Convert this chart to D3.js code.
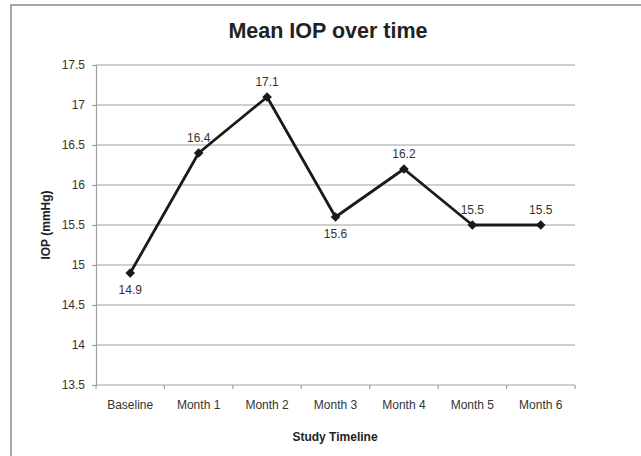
<!DOCTYPE html>
<html>
<head>
<meta charset="utf-8">
<script src="https://cdn.jsdelivr.net/npm/d3@7"></script>
<style>
  body { margin: 0; background: #fff; }
  svg { display: block; font-family: "Liberation Sans", Arial, sans-serif; }
</style>
</head>
<body>
<div id="chart"></div>
<script>
// Mean IOP over time

const categories = ['Baseline', 'Month 1', 'Month 2', 'Month 3', 'Month 4', 'Month 5', 'Month 6'];
const iopValues = [14.9, 16.4, 17.1, 15.6, 16.2, 15.5, 15.5];
const labelBelow = [true, false, false, true, false, false, false];
const yTicks = [13.5, 14, 14.5, 15, 15.5, 16, 16.5, 17, 17.5];

const W = 641, H = 456;
const plot = {left: 96, right: 575, top: 65, bottom: 385};

const svg = d3.select('#chart').append('svg')
    .attr('width', W)
    .attr('height', H);

// outer frame (only left/top edges are visible in the crop)
svg.append('rect')
    .attr('x', 11).attr('y', 5)
    .attr('width', 700).attr('height', 600)
    .attr('fill', 'none')
    .attr('stroke', '#a8a8a8')
    .attr('stroke-width', 2);

const x = d3.scaleBand()
    .domain(categories)
    .range([plot.left, plot.right]);

const y = d3.scaleLinear()
    .domain([13.5, 17.5])
    .range([plot.bottom, plot.top]);

// gridlines
svg.append('g')
    .selectAll('line')
    .data(yTicks.slice(1))
    .enter()
    .append('line')
    .attr('x1', plot.left).attr('x2', plot.right)
    .attr('y1', d => y(d)).attr('y2', d => y(d))
    .attr('stroke', '#a0a0a0')
    .attr('stroke-width', 1.2);

// y axis
const yAxis = svg.append('g')
    .attr('transform', `translate(${plot.left},0)`)
    .call(d3.axisLeft(y).tickValues(yTicks).tickSize(4).tickPadding(7)
        .tickFormat(d => d3.format('')(d)));
yAxis.select('.domain').attr('stroke', '#a0a0a0').attr('stroke-width', 1.2);
yAxis.selectAll('.tick line').attr('stroke', '#a0a0a0').attr('stroke-width', 1.2);
yAxis.selectAll('.tick text').attr('fill', '#333').style('font-size', '12px');

// x axis: ticks at the category boundaries
const xAxisG = svg.append('g');
xAxisG.append('line')
    .attr('x1', plot.left).attr('x2', plot.right)
    .attr('y1', plot.bottom).attr('y2', plot.bottom)
    .attr('stroke', '#a0a0a0').attr('stroke-width', 1.2);
const bounds = categories.map(c => x(c)).concat([plot.right]);
xAxisG.selectAll('.xtick')
    .data(bounds)
    .enter()
    .append('line')
    .attr('class', 'xtick')
    .attr('x1', d => d).attr('x2', d => d)
    .attr('y1', plot.bottom).attr('y2', plot.bottom + 4)
    .attr('stroke', '#a0a0a0').attr('stroke-width', 1.2);
xAxisG.selectAll('.xlabel')
    .data(categories)
    .enter()
    .append('text')
    .attr('class', 'xlabel')
    .attr('x', d => x(d) + x.bandwidth() / 2)
    .attr('y', plot.bottom + 24)
    .attr('text-anchor', 'middle')
    .attr('fill', '#333')
    .style('font-size', '12px')
    .text(d => d);

// line + markers
const pts = categories.map((c, i) => ({cat: c, v: iopValues[i], below: labelBelow[i]}));
const cx = d => x(d.cat) + x.bandwidth() / 2;

svg.append('path')
    .datum(pts)
    .attr('fill', 'none')
    .attr('stroke', '#1a1a1a')
    .attr('stroke-width', 2.8)
    .attr('stroke-linejoin', 'round')
    .attr('d', d3.line().x(cx).y(d => y(d.v)));

svg.selectAll('.marker')
    .data(pts)
    .enter()
    .append('path')
    .attr('class', 'marker')
    .attr('d', d3.symbol().type(d3.symbolSquare).size(46))
    .attr('transform', d => `translate(${cx(d)},${y(d.v)}) rotate(45)`)
    .attr('fill', '#1a1a1a');

// data labels
svg.selectAll('.dlabel')
    .data(pts)
    .enter()
    .append('text')
    .attr('class', 'dlabel')
    .attr('x', cx)
    .attr('y', d => d.below ? y(d.v) + 21 : y(d.v) - 11)
    .attr('text-anchor', 'middle')
    .attr('fill', '#333')
    .style('font-size', '12px')
    .text(d => d.v);

// titles
svg.append('text')
    .attr('x', 328).attr('y', 38)
    .attr('text-anchor', 'middle')
    .attr('fill', '#222')
    .style('font-size', '21.5px')
    .style('font-weight', 'bold')
    .text('Mean IOP over time');

svg.append('text')
    .attr('transform', `translate(50,${(plot.top + plot.bottom) / 2}) rotate(-90)`)
    .attr('text-anchor', 'middle')
    .attr('fill', '#222')
    .style('font-size', '12px')
    .style('font-weight', 'bold')
    .text('IOP (mmHg)');

svg.append('text')
    .attr('x', 335).attr('y', 441)
    .attr('text-anchor', 'middle')
    .attr('fill', '#222')
    .style('font-size', '12px')
    .style('font-weight', 'bold')
    .text('Study Timeline');
</script>
</body>
</html>
